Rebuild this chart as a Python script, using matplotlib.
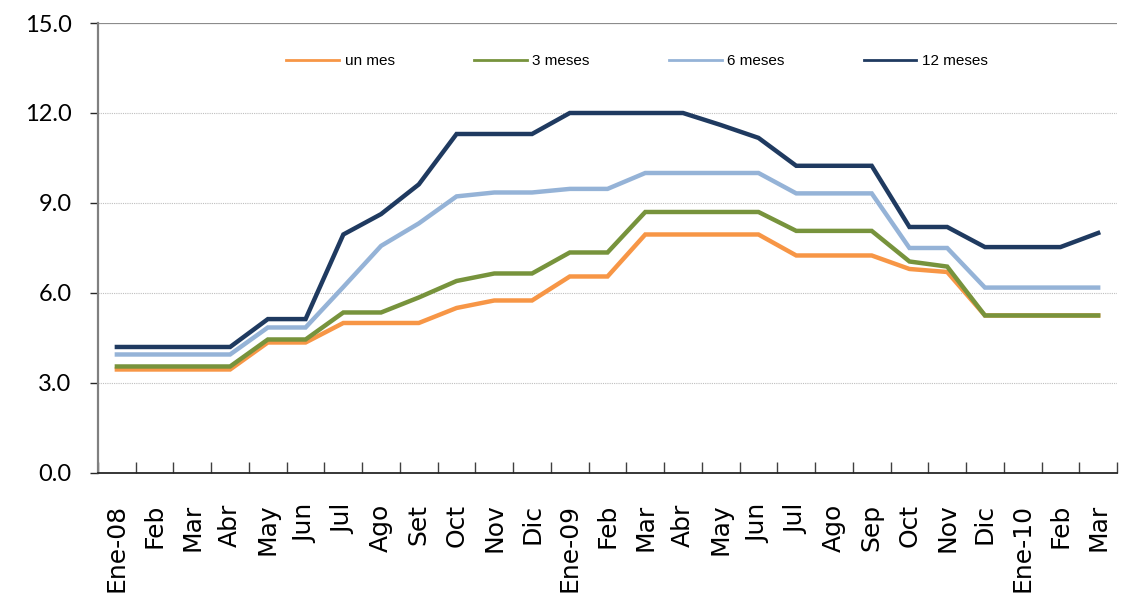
import matplotlib.pyplot as plt
import numpy as np

# ============================================================
# DATOS
# ============================================================

meses = ["Ene-08", "Feb", "Mar", "Abr", "May", "Jun", "Jul", "Ago", "Set", "Oct",
         "Nov", "Dic", "Ene-09", "Feb", "Mar", "Abr", "May", "Jun", "Jul", "Ago",
         "Sep", "Oct", "Nov", "Dic", "Ene-10", "Feb", "Mar"]

un_mes = [3.45, 3.45, 3.45, 3.45, 4.35, 4.35, 5.0, 5.0, 5.0, 5.5,
          5.75, 5.75, 6.55, 6.55, 7.95, 7.95, 7.95, 7.95, 7.25, 7.25,
          7.25, 6.8, 6.7, 5.25, 5.25, 5.25, 5.25]

tres_meses = [3.55, 3.55, 3.55, 3.55, 4.45, 4.45, 5.35, 5.35, 5.85, 6.4,
              6.65, 6.65, 7.35, 7.35, 8.7, 8.7, 8.7, 8.7, 8.07, 8.07,
              8.07, 7.05, 6.88, 5.25, 5.25, 5.25, 5.25]

seis_meses = [3.95, 3.95, 3.95, 3.95, 4.85, 4.85, 6.2, 7.57, 8.32, 9.22,
              9.35, 9.35, 9.47, 9.47, 10.0, 10.0, 10.0, 10.0, 9.32, 9.32,
              9.32, 7.5, 7.5, 6.18, 6.18, 6.18, 6.18]

doce_meses = [4.2, 4.2, 4.2, 4.2, 5.13, 5.13, 7.95, 8.63, 9.62, 11.3,
              11.3, 11.3, 12.0, 12.0, 12.0, 12.0, 11.6, 11.17, 10.24, 10.24,
              10.24, 8.2, 8.2, 7.53, 7.53, 7.53, 8.0]

series = [
    ("un mes", un_mes, "#F79646"),
    ("3 meses", tres_meses, "#77933C"),
    ("6 meses", seis_meses, "#95B3D7"),
    ("12 meses", doce_meses, "#1F3A60"),
]

# ============================================================
# GRAFICO
# ============================================================

fig = plt.figure(figsize=(11.24, 5.99), dpi=100)
ax = fig.add_axes([0.0872, 0.2104, 0.9066, 0.7512])

x = np.arange(len(meses))
for nombre, valores, color in series:
    ax.plot(x, valores, color=color, linewidth=3.2, label=nombre,
            solid_joinstyle="miter")

ax.set_xlim(-0.5, len(meses) - 0.5)
ax.set_ylim(0, 15)

ax.set_yticks([0, 3, 6, 9, 12, 15])
ax.set_yticklabels([f"{v:.1f}" for v in [0, 3, 6, 9, 12, 15]],
                   fontsize=17, family="Lato")
for v in [3, 6, 9, 12]:
    ax.axhline(v, color="#BFBFBF", linewidth=0.8, linestyle=(0, (1, 1)), zorder=0)
ax.axhline(15, color="#8C8C8C", linewidth=1.6, zorder=0)

ax.set_xticks(x)
ax.set_xticklabels(meses, rotation=90, fontsize=18, family="DejaVu Sans")
ax.set_xticks(np.arange(len(meses) + 1) - 0.5, minor=True)
ax.tick_params(axis="x", which="major", length=0, pad=22)
ax.tick_params(axis="x", which="minor", direction="in", length=8,
               color="#404040", width=1)
ax.tick_params(axis="y", direction="out", length=6, color="#262626",
               width=1, pad=13)

for s in ["top", "right"]:
    ax.spines[s].set_visible(False)
ax.spines["left"].set_color("#808080")
ax.spines["left"].set_linewidth(1.6)
ax.spines["bottom"].set_color("#262626")
ax.spines["bottom"].set_linewidth(1.3)

leg = ax.legend(loc="center", bbox_to_anchor=(0.529, 0.915), ncol=4,
                frameon=False, handlelength=3.45, columnspacing=5.2,
                handletextpad=0.35,
                prop={"family": "Liberation Sans", "size": 11})
for h in leg.get_lines():
    h.set_linewidth(2)

fig.savefig("out.png", dpi=100)
